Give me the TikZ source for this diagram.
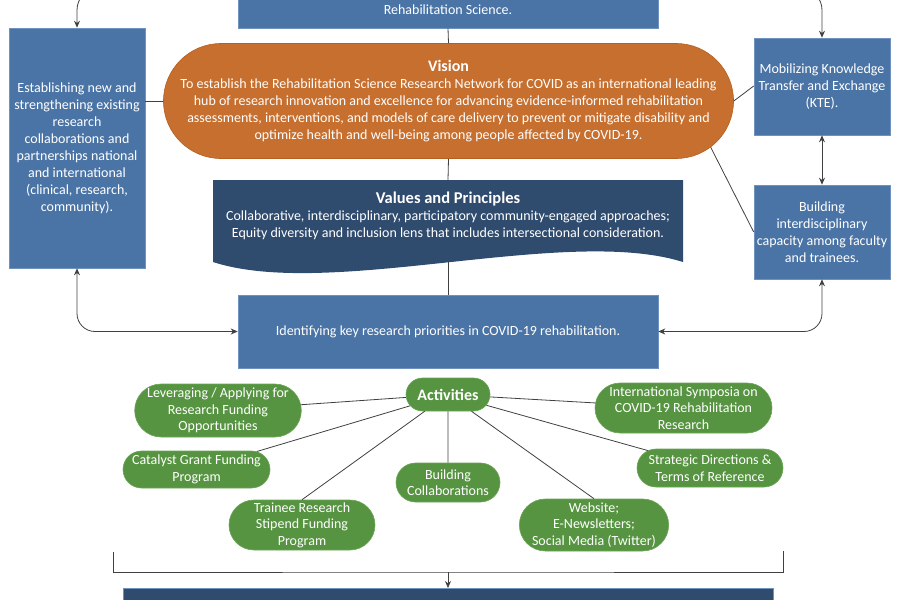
\documentclass[tikz,border=0pt]{standalone}
\usepackage{fontspec}
\setmainfont{Carlito}
\usetikzlibrary{arrows.meta,shapes.misc}
\definecolor{boxblue}{HTML}{4A74A6}
\definecolor{boxedge}{HTML}{6F93BE}
\definecolor{navy}{HTML}{2F4B6E}
\definecolor{visorange}{HTML}{C66F2E}
\definecolor{visedge}{HTML}{B5601F}
\definecolor{actgreen}{HTML}{569441}
\definecolor{actedge}{HTML}{6BA557}
\definecolor{linegray}{HTML}{404040}
\tikzset{
  txt/.style={text=white,align=center,inner sep=0pt,font=\fontsize{14}{17}\selectfont},
  bluebox/.style={txt,draw=boxedge,fill=boxblue,line width=0.6pt},
  visionbox/.style={txt,rounded rectangle,draw=visedge,fill=visorange,line width=0.6pt},
  actbox/.style={txt,rounded rectangle,draw=actedge,fill=actgreen,line width=0.6pt,
    font=\fontsize{14}{16.5}\selectfont},
  conn/.style={draw=linegray,line width=0.8pt},
  arr/.style={conn,-{Stealth[length=7pt,width=6pt]}},
  darr/.style={conn,{Stealth[length=7pt,width=6pt]}-{Stealth[length=7pt,width=6pt]}}
}
\begin{document}
\begin{tikzpicture}[x=1pt,y=-1pt]
\useasboundingbox (0,0) rectangle (900,600);
\clip (0,0) rectangle (900,600);
% blue boxes
\node[bluebox,minimum width=420,minimum height=36] (top) at (448,10) {Rehabilitation Science.};
\node[bluebox,minimum width=136,minimum height=240] (lbox) at (77,148)
  {Establishing new and\\strengthening existing\\research\\collaborations and\\partnerships national\\and international\\(clinical, research,\\community).};
\node[bluebox,minimum width=136,minimum height=97] (mob) at (822,86.5)
  {Mobilizing Knowledge\\Transfer and Exchange\\(KTE).};
\node[bluebox,minimum width=136,minimum height=94] (bld) at (822,232)
  {Building\\interdisciplinary\\capacity among faculty\\and trainees.};
\node[bluebox,minimum width=420,minimum height=73] (ident) at (448,331.5)
  {Identifying key research priorities in COVID-19 rehabilitation.};
% vision
\node[visionbox,minimum width=563,minimum height=115] (vision) at (448.5,101)
  {{\bfseries\fontsize{16}{17}\selectfont Vision}\\
   To establish the Rehabilitation Science Research Network for COVID as an international leading\\
   hub of research innovation and excellence for advancing evidence-informed rehabilitation\\
   assessments, interventions, and models of care delivery to prevent or mitigate disability and\\
   optimize health and well-being among people affected by COVID-19.};
% values and principles
\coordinate (valtop) at (448,180);
\coordinate (valbot) at (448,262);
\fill[navy] (213,180) -- (683,180) -- (683,262)
  .. controls (565,225) and (330,300) .. (213,262) -- cycle;
\node[txt] (valtxt) at (448,215.5)
  {{\bfseries\fontsize{16.5}{17}\selectfont Values and Principles}\\
   Collaborative, interdisciplinary, participatory community-engaged approaches;\\
   Equity diversity and inclusion lens that includes intersectional consideration.};
% activities
\node[actbox,minimum width=84,minimum height=33] (act) at (448,394.5)
  {{\bfseries\fontsize{16}{17}\selectfont Activities}};
\node[actbox,minimum width=166,minimum height=53] (lev) at (218,410.5)
  {Leveraging / Applying for\\Research Funding\\Opportunities};
\node[actbox,minimum width=147,minimum height=37] (cat) at (196.5,469.5)
  {Catalyst Grant Funding\\Program};
\node[actbox,minimum width=146,minimum height=50] (trn) at (302,525)
  {Trainee Research\\Stipend Funding\\Program};
\node[actbox,minimum width=104,minimum height=39] (bcol) at (448,482.5)
  {Building\\Collaborations};
\node[actbox,minimum width=146,minimum height=52] (web) at (594,525)
  {Website;\\E-Newsletters;\\Social Media (Twitter)};
\node[actbox,minimum width=146,minimum height=38] (strat) at (710,468)
  {Strategic Directions \&\\Terms of Reference};
\node[actbox,minimum width=177,minimum height=50] (intl) at (683.5,408)
  {International Symposia on\\COVID-19 Rehabilitation\\Research};
% bottom box
\node[draw=boxedge,fill=navy,line width=0.6pt,minimum width=650,minimum height=30,anchor=north] (bottom) at (448,588) {};
% connectors
\coordinate (ltop) at (238,-12);
\coordinate (rtop) at (658,-12);
\draw[arr,rounded corners=22] (ltop) -| (lbox.north);
\draw[arr,rounded corners=22] (rtop) -| (mob.north);
\draw[conn] (top.south) -- (vision.north);
\draw[conn] (lbox.east |- vision.west) -- (vision.west);
\draw[conn] (vision.east) -- (mob.west |- 0,86);
\draw[conn] (vision.-10.5) -- (bld.west);
\draw[darr] (mob.south) -- (bld.north);
\draw[conn] (vision.south) -- (valtop);
\draw[conn] (valbot) -- (ident.north);
\draw[darr,rounded corners=18] (lbox.south) |- (ident.west);
\draw[darr,rounded corners=18] (bld.south) |- (ident.east);
\foreach \v in {lev,cat,bcol,strat,intl}
  \draw[conn] (act) -- (\v);
\foreach \v in {trn,web}
  \draw[conn] (act) -- (\v.north);
% bracket
\coordinate (brl) at (113,552);
\coordinate (brr) at (783,551);
\coordinate (brm) at (448,572);
\draw[conn] (brl) |- (brm) -| (brr);
\draw[arr] (brm) -- (bottom.north);
\end{tikzpicture}
\end{document}
